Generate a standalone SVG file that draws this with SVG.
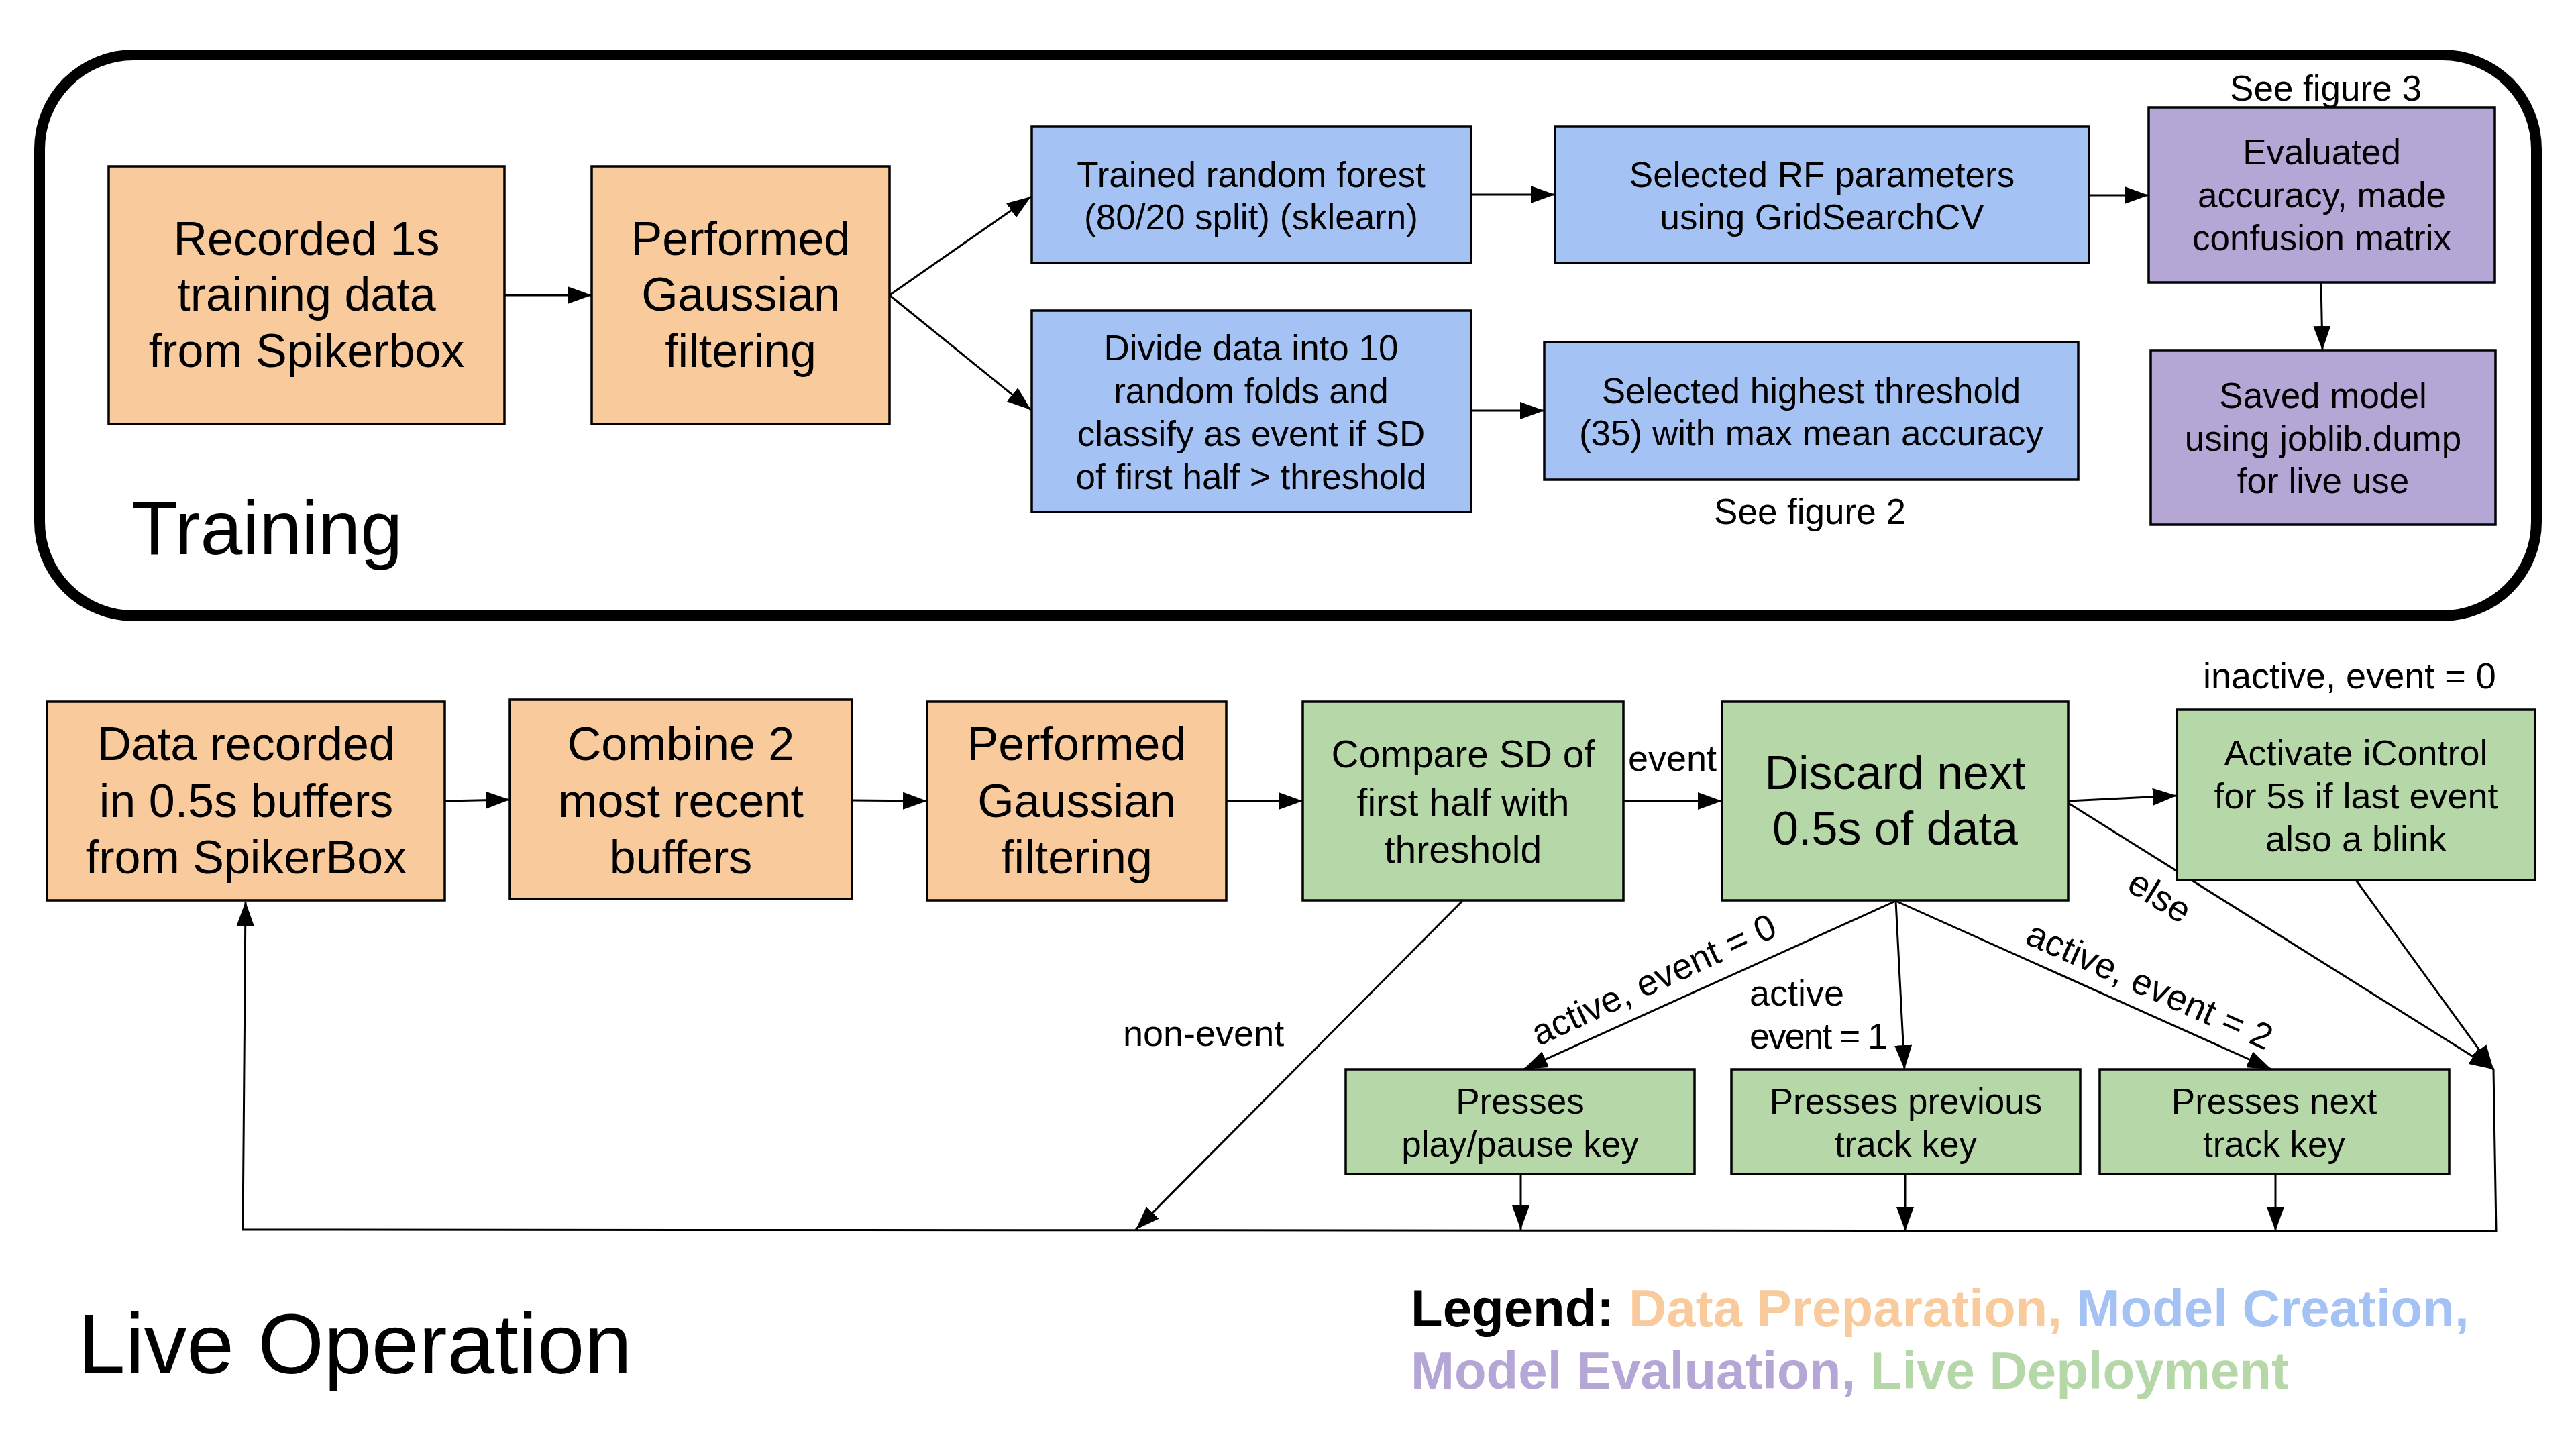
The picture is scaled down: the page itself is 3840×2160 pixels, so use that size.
<svg xmlns="http://www.w3.org/2000/svg" width="3840" height="2160" viewBox="0 0 3840 2160">
<defs>
<style>
.t{font-family:"Liberation Sans",Arial,sans-serif;fill:#000;text-anchor:middle}
.l{font-family:"Liberation Sans",Arial,sans-serif;fill:#000;font-size:54px}
.big{font-size:70px}
.mid{font-size:57px}
.sm{font-size:53px}
.box{stroke:#000;stroke-width:3.5}
.o{fill:#F9CB9C}.b{fill:#A4C2F4}.p{fill:#B4A7D6}.g{fill:#B6D7A8}
.c{stroke:#000;stroke-width:3;fill:none}
.a{marker-end:url(#ah)}
</style>
<marker id="ah" markerUnits="userSpaceOnUse" viewBox="0 0 36 26" refX="36" refY="13" markerWidth="36" markerHeight="26" orient="auto">
<path d="M0,0 L36,13 L0,26 z" fill="#000"/>
</marker>
</defs>
<rect width="3840" height="2160" fill="#fff"/>

<rect id="training-frame" x="59" y="82" width="3722" height="836" rx="140" ry="140" fill="none" stroke="#000" stroke-width="16"/>
<text class="l" x="196" y="826" style="font-size:113px">Training</text>
<text class="l" x="116" y="2047" style="font-size:127px">Live Operation</text>

<g id="connectors">
<line class="c a" x1="752" y1="440" x2="882" y2="440"/>
<line class="c a" x1="1326" y1="440" x2="1537" y2="293"/>
<line class="c a" x1="1326" y1="440" x2="1537" y2="611"/>
<line class="c a" x1="2193" y1="290" x2="2318" y2="290"/>
<line class="c a" x1="3114" y1="291" x2="3203" y2="291"/>
<line class="c a" x1="2193" y1="612" x2="2302" y2="612"/>
<line class="c a" x1="3460" y1="421" x2="3462" y2="522"/>

<line class="c a" x1="663" y1="1194" x2="760" y2="1192"/>
<line class="c a" x1="1270" y1="1193" x2="1382" y2="1194"/>
<line class="c a" x1="1828" y1="1194" x2="1942" y2="1194"/>
<line class="c a" x1="2420" y1="1194" x2="2567" y2="1194"/>
<line class="c a" x1="3083" y1="1194" x2="3245" y2="1186"/>
<line class="c a" x1="3083" y1="1197" x2="3717" y2="1594"/>
<line class="c a" x1="3512" y1="1312" x2="3717" y2="1594"/>
<polyline class="c a" points="3717,1594 3721,1835 362,1833 366,1344"/>
<line class="c a" x1="2180" y1="1343" x2="1693" y2="1833"/>
<line class="c a" x1="2826" y1="1343" x2="2271" y2="1594"/>
<line class="c a" x1="2826" y1="1343" x2="2839" y2="1594"/>
<line class="c a" x1="2826" y1="1343" x2="3386" y2="1594"/>
<line class="c a" x1="2267" y1="1750" x2="2267" y2="1833"/>
<line class="c a" x1="2840" y1="1750" x2="2840" y2="1835"/>
<line class="c a" x1="3392" y1="1750" x2="3392" y2="1835"/>

<text class="l" x="2427" y="1149">event</text>
<text class="l" x="1674" y="1559">non-event</text>
<text class="l" x="3284" y="1026">inactive, event = 0</text>
<text class="l" x="2608" y="1499">active</text>
<text class="l" x="2608" y="1563" textLength="206" lengthAdjust="spacing">event = 1</text>
<text class="l" transform="translate(3210,1352) rotate(32)" text-anchor="middle">else</text>
<text class="l" transform="translate(3189,1504) rotate(24)" x="0" y="-20" text-anchor="middle">active, event = 2</text>
<text class="l" transform="translate(2482,1497) rotate(-24.8)" x="0" y="-22" text-anchor="middle">active,  event = 0</text>
</g>

<g id="recorded">
<rect class="box o" x="162" y="248" width="590" height="384"/>
<text class="t big" x="457" y="380">Recorded 1s</text>
<text class="t big" x="457" y="463">training data</text>
<text class="t big" x="457" y="547">from Spikerbox</text>
</g>
<g id="gauss-train">
<rect class="box o" x="882" y="248" width="444" height="384"/>
<text class="t big" x="1104" y="380">Performed</text>
<text class="t big" x="1104" y="463">Gaussian</text>
<text class="t big" x="1104" y="547">filtering</text>
</g>
<g id="random-forest">
<rect class="box b" x="1538" y="189" width="655" height="203"/>
<text class="t sm" x="1865" y="279">Trained random forest</text>
<text class="t sm" x="1865" y="342">(80/20 split) (sklearn)</text>
</g>
<g id="rf-params">
<rect class="box b" x="2318" y="189" width="796" height="203"/>
<text class="t sm" x="2716" y="279">Selected RF parameters</text>
<text class="t sm" x="2716" y="342">using GridSearchCV</text>
</g>
<g id="evaluated">
<rect class="box p" x="3203" y="160" width="516" height="261"/>
<text class="t sm" x="3461" y="245">Evaluated</text>
<text class="t sm" x="3461" y="309">accuracy, made</text>
<text class="t sm" x="3461" y="373">confusion matrix</text>
<text class="t sm" x="3467" y="150">See figure 3</text>
</g>
<g id="saved">
<rect class="box p" x="3206" y="522" width="514" height="260"/>
<text class="t sm" x="3463" y="608">Saved model</text>
<text class="t sm" x="3463" y="672">using joblib.dump</text>
<text class="t sm" x="3463" y="735">for live use</text>
</g>
<g id="folds">
<rect class="box b" x="1538" y="463" width="655" height="300"/>
<text class="t sm" x="1865" y="537">Divide data into 10</text>
<text class="t sm" x="1865" y="601">random folds and</text>
<text class="t sm" x="1865" y="665">classify as event if SD</text>
<text class="t sm" x="1865" y="729">of first half &gt; threshold</text>
</g>
<g id="threshold">
<rect class="box b" x="2302" y="510" width="796" height="205"/>
<text class="t sm" x="2700" y="601">Selected highest threshold</text>
<text class="t sm" x="2700" y="664">(35) with max mean accuracy</text>
<text class="t sm" x="2698" y="781">See figure 2</text>
</g>

<g id="data-recorded">
<rect class="box o" x="70" y="1046" width="593" height="296"/>
<text class="t big" x="367" y="1133">Data recorded</text>
<text class="t big" x="367" y="1218">in 0.5s buffers</text>
<text class="t big" x="367" y="1302">from SpikerBox</text>
</g>
<g id="combine">
<rect class="box o" x="760" y="1043" width="510" height="297"/>
<text class="t big" x="1015" y="1133">Combine 2</text>
<text class="t big" x="1015" y="1218">most recent</text>
<text class="t big" x="1015" y="1302">buffers</text>
</g>
<g id="gauss-live">
<rect class="box o" x="1382" y="1046" width="446" height="296"/>
<text class="t big" x="1605" y="1133">Performed</text>
<text class="t big" x="1605" y="1218">Gaussian</text>
<text class="t big" x="1605" y="1302">filtering</text>
</g>
<g id="compare">
<rect class="box g" x="1942" y="1046" width="478" height="296"/>
<text class="t mid" x="2181" y="1144">Compare SD of</text>
<text class="t mid" x="2181" y="1216">first half with</text>
<text class="t mid" x="2181" y="1286">threshold</text>
</g>
<g id="discard">
<rect class="box g" x="2567" y="1046" width="516" height="296"/>
<text class="t big" x="2825" y="1176">Discard next</text>
<text class="t big" x="2825" y="1259">0.5s of data</text>
</g>
<g id="activate">
<rect class="box g" x="3245" y="1058" width="534" height="254"/>
<text class="t" x="3512" y="1141" style="font-size:54px">Activate iControl</text>
<text class="t" x="3512" y="1205" style="font-size:54px">for 5s if last event</text>
<text class="t" x="3512" y="1269" style="font-size:54px">also a blink</text>
</g>
<g id="play-pause">
<rect class="box g" x="2006" y="1594" width="520" height="156"/>
<text class="t sm" x="2266" y="1660">Presses</text>
<text class="t sm" x="2266" y="1724">play/pause key</text>
</g>
<g id="previous">
<rect class="box g" x="2581" y="1594" width="520" height="156"/>
<text class="t sm" x="2841" y="1660">Presses previous</text>
<text class="t sm" x="2841" y="1724">track key</text>
</g>
<g id="next">
<rect class="box g" x="3130" y="1594" width="521" height="156"/>
<text class="t sm" x="3390" y="1660">Presses next</text>
<text class="t sm" x="3390" y="1724">track key</text>
</g>

<g id="legend" font-family="Liberation Sans, Arial, sans-serif" font-weight="bold" font-size="78">
<text x="2103" y="1977"><tspan fill="#000">Legend:</tspan> <tspan fill="#F9CB9C">Data Preparation,</tspan> <tspan fill="#A4C2F4">Model Creation,</tspan></text>
<text x="2103" y="2070"><tspan fill="#B4A7D6">Model Evaluation,</tspan> <tspan fill="#B6D7A8">Live Deployment</tspan></text>
</g>
</svg>
